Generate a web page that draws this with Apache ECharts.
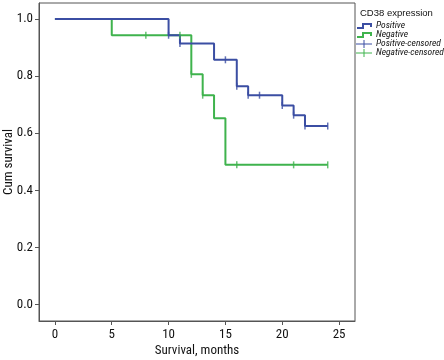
<!DOCTYPE html>
<html><head><meta charset="utf-8">
<script src="https://cdn.jsdelivr.net/npm/echarts@6/dist/echarts.min.js"></script>
<style>html,body{margin:0;padding:0;background:#fff}#c{width:444px;height:360px}</style>
</head><body><div id="c"></div>
<script>
// Kaplan-Meier step data (time in months, cumulative survival)
const posTimes = [0, 10, 11, 14, 16, 17, 20, 21, 22, 24];
const posSurv  = [1.0, 0.943, 0.914, 0.857, 0.764, 0.733, 0.697, 0.663, 0.625, 0.625];
const negTimes = [0, 5, 12, 13, 14, 15, 24];
const negSurv  = [1.0, 0.943, 0.806, 0.733, 0.652, 0.489, 0.489];
const posCensTimes = [10, 11, 15, 16, 17, 18, 20, 21, 22, 24];
const posCensSurv  = [0.943, 0.914, 0.857, 0.764, 0.733, 0.733, 0.697, 0.663, 0.625, 0.625];
const negCensTimes = [8, 11, 12, 13, 16, 21, 24];
const negCensSurv  = [0.943, 0.943, 0.806, 0.733, 0.489, 0.489, 0.489];
const xTicks = [0, 5, 10, 15, 20, 25];
const yTicks = [0, 0.2, 0.4, 0.6, 0.8, 1.0];
const legendNames = ['Positive', 'Negative', 'Positive-censored', 'Negative-censored'];
const legendTitle = 'CD38 expression';

const BLUE = '#3b4ea3', GREEN = '#3fb34d';
const FONT = '"Roboto Condensed","Liberation Sans",sans-serif';
const zip = (a, b) => a.map((v, i) => [v, b[i]]);

const chart = echarts.init(document.getElementById('c'), null, {renderer: 'canvas'});

const legendY = [26, 35, 44, 53];
const legendColors = [BLUE, GREEN, BLUE, GREEN];
const graphics = [];
legendNames.forEach((n, i) => {
  const y = legendY[i];
  if (i < 2) {
    graphics.push({type: 'polyline', shape: {points: [[357, y + 2], [363, y + 2], [363, y - 2], [371, y - 2], [371, y + 1]]},
      style: {stroke: legendColors[i], lineWidth: 2, fill: null}});
  } else {
    graphics.push({type: 'line', shape: {x1: 356, y1: y, x2: 372, y2: y}, style: {stroke: legendColors[i], lineWidth: 1}});
    graphics.push({type: 'line', shape: {x1: 364, y1: y - 4, x2: 364, y2: y + 4}, style: {stroke: legendColors[i], lineWidth: 1}});
  }
  graphics.push({type: 'text', x: 376, y: y, 
    style: {text: n, font: 'italic 9.5px ' + FONT, fill: '#111', verticalAlign: 'middle'}});
});
graphics.push({type: 'text', x: 360, y: 13, style: {text: legendTitle, font: '9.5px "Liberation Sans",Arial,sans-serif', fill: '#111', verticalAlign: 'middle'}});

chart.setOption({
  animation: false,
  grid: {left: 39, right: 89, top: 3, bottom: 39, show: true, borderColor: '#555', borderWidth: 1,
    outerBoundsMode: 'none', containLabel: false},
  xAxis: {
    type: 'value', min: -1.4, max: 26.4,
    name: 'Survival, months', nameLocation: 'middle', nameGap: 23, nameMoveOverlap: false,
    nameTextStyle: {fontFamily: FONT, fontSize: 13, color: '#111'},
    axisLine: {show: true, onZero: false, lineStyle: {color: '#555'}},
    axisTick: {show: true, length: 4, lineStyle: {color: '#555'}, customValues: xTicks},
    axisLabel: {fontFamily: FONT, fontSize: 13, color: '#111', margin: 7, customValues: xTicks},
    splitLine: {show: false}
  },
  yAxis: {
    type: 'value', min: -0.058, max: 1.056,
    name: 'Cum survival', nameLocation: 'middle', nameGap: 24, nameMoveOverlap: false,
    nameTextStyle: {fontFamily: FONT, fontSize: 13, color: '#111'},
    axisLine: {show: true, onZero: false, lineStyle: {color: '#555'}},
    axisTick: {show: true, length: 4, lineStyle: {color: '#555'}, customValues: yTicks},
    axisLabel: {fontFamily: FONT, fontSize: 13, color: '#111', margin: 6, customValues: yTicks,
      formatter: v => v.toFixed(1)},
    splitLine: {show: false}
  },
  graphic: graphics,
  series: [
    {name: 'Positive', type: 'line', step: 'end', data: zip(posTimes, posSurv), symbol: 'none',
      lineStyle: {color: BLUE, width: 2}, z: 3},
    {name: 'Negative', type: 'line', step: 'end', data: zip(negTimes, negSurv), symbol: 'none',
      lineStyle: {color: GREEN, width: 2}, z: 2},
    {name: 'Positive-censored', type: 'scatter', data: zip(posCensTimes, posCensSurv),
      symbol: 'rect', symbolSize: [1.5, 7], itemStyle: {color: BLUE}, z: 4},
    {name: 'Negative-censored', type: 'scatter', data: zip(negCensTimes, negCensSurv),
      symbol: 'rect', symbolSize: [1.5, 7], itemStyle: {color: GREEN}, z: 4}
  ]
});
</script></body></html>
